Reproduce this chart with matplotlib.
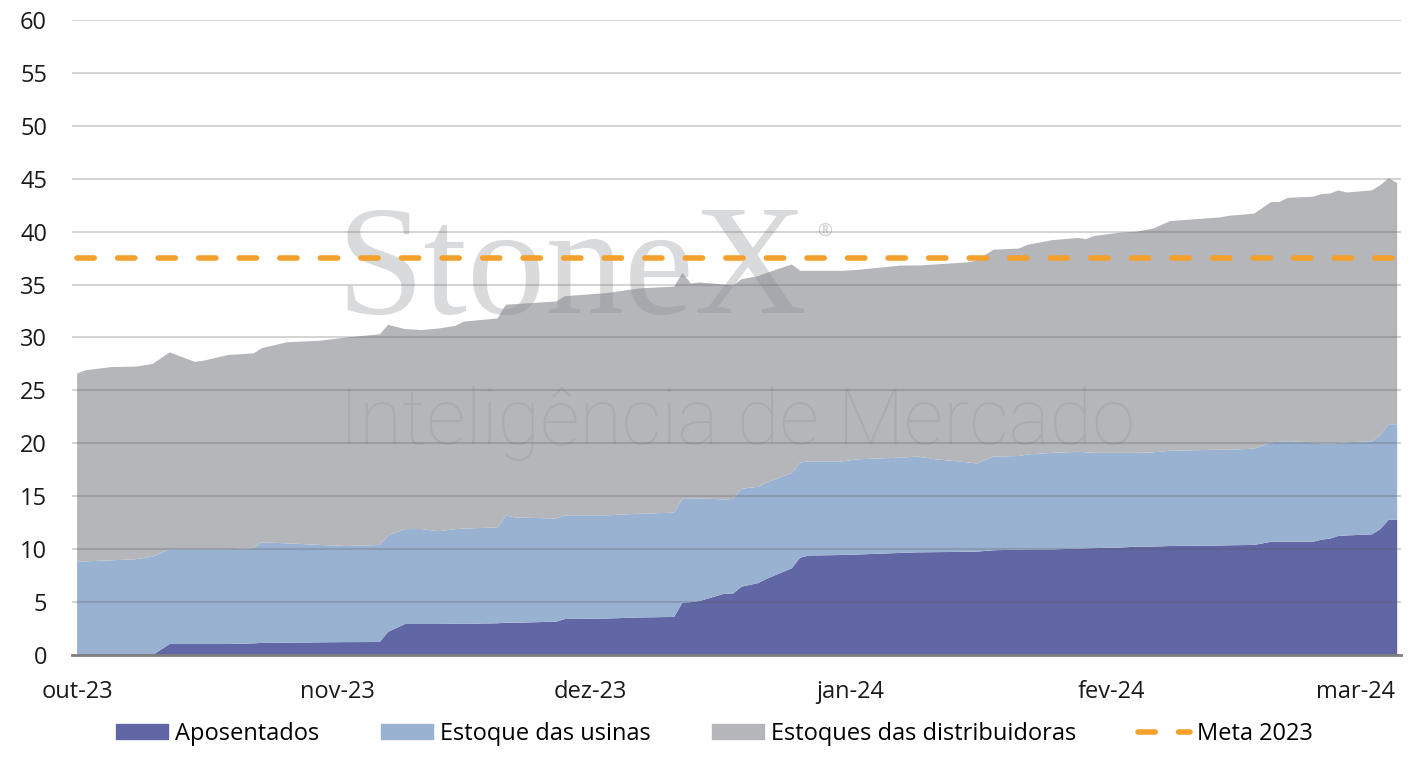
import numpy as np
import pandas as pd
import matplotlib
matplotlib.use("Agg")
import matplotlib.pyplot as plt
import matplotlib.dates as mdates
from matplotlib.patches import Patch
from matplotlib.lines import Line2D

plt.rcParams['font.family'] = ['Open Sans', 'DejaVu Sans']

dates = ["2023-10-01", "2023-10-02", "2023-10-05", "2023-10-08", "2023-10-10", "2023-10-12",
         "2023-10-15", "2023-10-16", "2023-10-19", "2023-10-22", "2023-10-23", "2023-10-26",
         "2023-10-30", "2023-11-02", "2023-11-06", "2023-11-07", "2023-11-09", "2023-11-11",
         "2023-11-13", "2023-11-15", "2023-11-16", "2023-11-20", "2023-11-21", "2023-11-22",
         "2023-11-27", "2023-11-28", "2023-12-03", "2023-12-07", "2023-12-11", "2023-12-12",
         "2023-12-13", "2023-12-14", "2023-12-17", "2023-12-18", "2023-12-19", "2023-12-21",
         "2023-12-22", "2023-12-25", "2023-12-26", "2023-12-27", "2023-12-31", "2024-01-02",
         "2024-01-07", "2024-01-09", "2024-01-11", "2024-01-15", "2024-01-16", "2024-01-18",
         "2024-01-21", "2024-01-22", "2024-01-25", "2024-01-28", "2024-01-29", "2024-01-30",
         "2024-02-02", "2024-02-04", "2024-02-06", "2024-02-08", "2024-02-14", "2024-02-15",
         "2024-02-18", "2024-02-20", "2024-02-21", "2024-02-22", "2024-02-25", "2024-02-26",
         "2024-02-27", "2024-02-28", "2024-02-29", "2024-03-03", "2024-03-04", "2024-03-05",
         "2024-03-06"]

aposentados = [0, 0, 0, 0, 0, 1.04, 1.04, 1.04, 1.04, 1.1, 1.15, 1.16, 1.2, 1.22, 1.23, 2.2,
               2.93, 2.93, 2.93, 2.95, 2.95, 3.0, 3.05, 3.05, 3.15, 3.4, 3.45, 3.55, 3.6, 4.95,
               5.0, 5.1, 5.8, 5.8, 6.45, 6.8, 7.2, 8.2, 9.2, 9.4, 9.45, 9.5, 9.65, 9.7, 9.72,
               9.75, 9.77, 9.9, 9.95, 9.97, 9.98, 10.05, 10.08, 10.1, 10.15, 10.24, 10.25, 10.3,
               10.35, 10.37, 10.4, 10.7, 10.7, 10.7, 10.7, 10.9, 11.0, 11.25, 11.3, 11.4, 11.9,
               12.8, 12.8]

estoque_usinas = [8.8, 8.85, 8.95, 9.05, 9.3, 8.96, 8.96, 8.96, 8.96, 9.0, 9.5, 9.39, 9.2, 9.08,
                  9.17, 9.1, 8.97, 8.97, 8.77, 8.95, 9.0, 9.05, 10.15, 9.95, 9.75, 9.8, 9.75, 9.8,
                  9.85, 9.85, 9.8, 9.7, 8.9, 8.95, 9.25, 9.1, 9.1, 9.0, 9.0, 8.9, 8.85, 9.0, 9.0,
                  9.05, 8.78, 8.45, 8.33, 8.85, 8.85, 8.98, 9.12, 9.15, 9.07, 9.0, 8.95, 8.86, 8.9,
                  9.0, 9.05, 9.03, 9.1, 9.4, 9.45, 9.5, 9.4, 9.1, 8.95, 8.8, 8.8, 8.8, 8.9, 9.0,
                  9.0]

estoque_distribuidoras = [17.8, 18.05, 18.25, 18.2, 18.2, 18.6, 17.7, 17.8, 18.35, 18.4, 18.35,
                          19.0, 19.3, 19.7, 19.9, 19.9, 18.9, 18.8, 19.15, 19.2, 19.55, 19.75,
                          19.9, 20.15, 20.5, 20.7, 21.0, 21.3, 21.35, 21.3, 20.3, 20.4, 20.3,
                          20.15, 19.8, 19.9, 19.8, 19.7, 18.1, 18.0, 18.0, 17.9, 18.15, 18.05,
                          18.4, 18.9, 19.2, 19.55, 19.6, 19.8, 20.1, 20.2, 20.15, 20.5, 20.8,
                          20.9, 21.15, 21.7, 21.95, 22.1, 22.2, 22.7, 22.65, 23.0, 23.2, 23.55,
                          23.65, 23.85, 23.6, 23.7, 23.6, 23.25, 22.8]

meta_2023 = 37.5

labels = ["Aposentados", "Estoque das usinas", "Estoques das distribuidoras"]
colors = ["#6166a4", "#99b2d2", "#b5b6ba"]
meta_color = "#f4a02c"

x = pd.to_datetime(dates)

fig = plt.figure(figsize=(14.18, 7.68), dpi=100)
ax = fig.add_axes([0.0508, 0.1471, 0.9372, 0.8269])

ax.stackplot(x, aposentados, estoque_usinas, estoque_distribuidoras,
             colors=colors, linewidth=0, zorder=1)

# watermark
ax.text(0.376, 0.598, "StoneX", transform=ax.transAxes, ha="center", va="center",
        fontsize=113, family=["Liberation Serif"], color="#8a8d92", alpha=0.32, zorder=2)
ax.text(0.566, 0.668, "®", transform=ax.transAxes, ha="center", va="center",
        fontsize=13, color="#8a8d92", alpha=0.4, zorder=2)
ax.text(0.5, 0.365, "Inteligência de Mercado", transform=ax.transAxes, ha="center",
        va="center", fontsize=56, fontweight="light", family=["Roboto", "DejaVu Sans"],
        color="#8a8d92", alpha=0.25, zorder=2)

ax.plot([x[0], x[-1]], [meta_2023, meta_2023], color=meta_color, lw=4,
        dashes=(3.1, 4.2), dash_capstyle="round", zorder=4)

ax.set_ylim(0, 60)
ax.set_yticks(np.arange(0, 61, 5))
ax.set_xlim(x[0] - pd.Timedelta(days=0.6), x[-1] + pd.Timedelta(days=0.45))
ax.xaxis.set_major_locator(mdates.MonthLocator())
month_names = {10: "out", 11: "nov", 12: "dez", 1: "jan", 2: "fev", 3: "mar"}
ax.xaxis.set_major_formatter(plt.FuncFormatter(
    lambda v, p: "%s-%s" % (month_names[mdates.num2date(v).month], mdates.num2date(v).strftime("%y"))))

ax.grid(axis="y", color="#5a5a5a", alpha=0.25, lw=1.5, zorder=3)
ax.set_axisbelow(False)
for s in ["top", "right", "left"]:
    ax.spines[s].set_visible(False)
ax.spines["bottom"].set_color("#7f7f7f")
ax.spines["bottom"].set_linewidth(2)
ax.spines["bottom"].set_zorder(5)
ax.tick_params(axis="both", length=0, labelsize=17, colors="#1a1a1a")
ax.tick_params(axis="x", pad=18)
ax.tick_params(axis="y", pad=18)

handles = [Patch(color=c, label=l) for c, l in zip(colors, labels)]
handles.append(Line2D([0], [0], color=meta_color, lw=4, dashes=(3.1, 4.2),
                      dash_capstyle="round", label="Meta 2023"))
fig.legend(handles=handles, loc="center", bbox_to_anchor=(0.504, 0.044), ncol=4,
           frameon=False, fontsize=17, handlelength=2.2, handleheight=0.6,
           handletextpad=0.3, columnspacing=2.6)

fig.savefig("out.png", dpi=100)
